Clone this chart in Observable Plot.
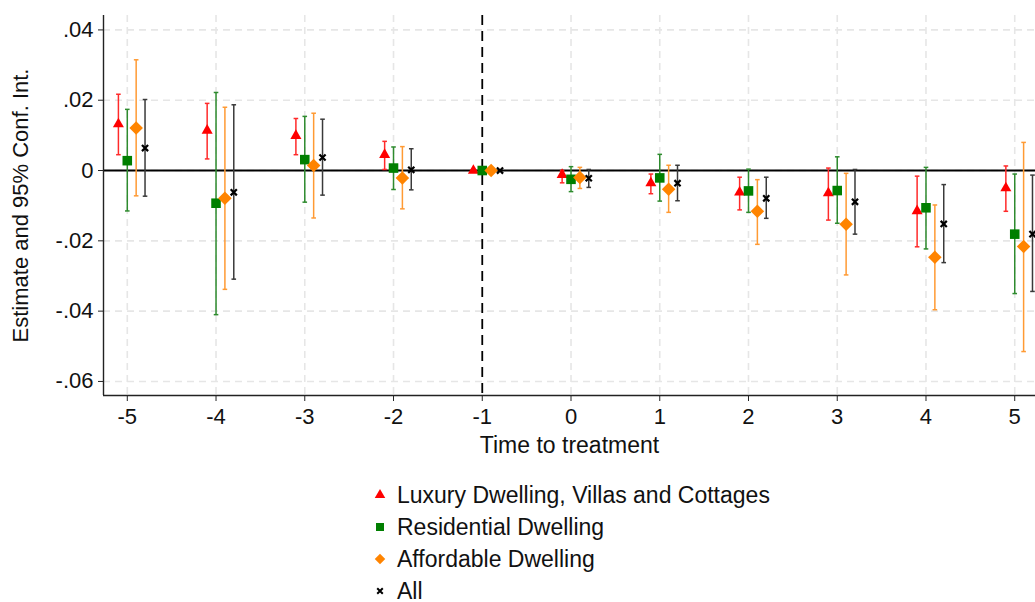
<!DOCTYPE html>
<html>
<head>
<meta charset="utf-8">
<script src="https://cdn.jsdelivr.net/npm/d3@7"></script>
<script src="https://cdn.jsdelivr.net/npm/@observablehq/plot@0.6"></script>
<style>
  html, body { margin: 0; padding: 0; background: #fff; }
  body { width: 1035px; height: 602px; overflow: hidden; font-family: "Liberation Sans", Arial, sans-serif; }
  #chart svg { display: block; }
  #legend { margin-top: 9px; padding-left: 370px; }
  .item { display: flex; align-items: center; height: 32px; font-size: 23px; color: #111; white-space: nowrap; }
  .item span { line-height: 1; }
  .item svg { width: 20px; height: 20px; margin-right: 7px; flex: none; }
</style>
</head>
<body>
<div id="chart"></div>
<div id="legend"></div>
<script>
// Event-study coefficients by time to treatment (t = -1 is the omitted reference period)
const periods = [-5, -4, -3, -2, -1, 0, 1, 2, 3, 4, 5];
const groups = ["Luxury Dwelling, Villas and Cottages", "Residential Dwelling", "Affordable Dwelling", "All"];

const luxuryEst = [0.0132, 0.0114, 0.0099, 0.0045, 0, -0.0012, -0.0036, -0.0062, -0.0064, -0.0115, -0.0050];
const luxuryLo  = [0.0045, 0.0033, 0.0045, 0.0003, null, -0.0035, -0.0066, -0.0112, -0.0141, -0.0217, -0.0116];
const luxuryHi  = [0.0217, 0.0191, 0.0148, 0.0083, null, 0.0000, -0.0010, -0.0019, 0.0007, -0.0016, 0.0013];

const residentialEst = [0.0028, -0.0093, 0.0031, 0.0007, 0, -0.0025, -0.0021, -0.0058, -0.0057, -0.0106, -0.0181];
const residentialLo  = [-0.0115, -0.0410, -0.0090, -0.0054, null, -0.0060, -0.0087, -0.0119, -0.0150, -0.0223, -0.0350];
const residentialHi  = [0.0174, 0.0222, 0.0154, 0.0067, null, 0.0011, 0.0046, 0.0004, 0.0039, 0.0009, -0.0010];

const affordableEst = [0.0121, -0.0079, 0.0014, -0.0021, 0, -0.0020, -0.0053, -0.0116, -0.0153, -0.0247, -0.0216];
const affordableLo  = [-0.0072, -0.0338, -0.0135, -0.0109, null, -0.0051, -0.0119, -0.0210, -0.0297, -0.0396, -0.0515];
const affordableHi  = [0.0315, 0.0180, 0.0163, 0.0068, null, 0.0009, 0.0015, -0.0026, -0.0008, -0.0098, 0.0080];

const allEst = [0.0064, -0.0062, 0.0037, 0.0002, 0, -0.0022, -0.0036, -0.0079, -0.0089, -0.0152, -0.0181];
const allLo  = [-0.0073, -0.0309, -0.0070, -0.0055, null, -0.0048, -0.0086, -0.0136, -0.0181, -0.0262, -0.0344];
const allHi  = [0.0202, 0.0187, 0.0146, 0.0062, null, 0.0003, 0.0015, -0.0019, 0.0003, -0.0040, -0.0013];

const yTicks = [-0.06, -0.04, -0.02, 0, 0.02, 0.04];

// Series styling: marker, colours, and horizontal dodge around each period
const series = [
  {name: groups[0], est: luxuryEst, lo: luxuryLo, hi: luxuryHi, symbol: "triangle", color: "#ff0000", ci: "#ff2a2a", r: 4.1, dodge: -0.1},
  {name: groups[1], est: residentialEst, lo: residentialLo, hi: residentialHi, symbol: "square", color: "#007f00", ci: "#2e8b2e", r: 5.4, dodge: 0},
  {name: groups[2], est: affordableEst, lo: affordableLo, hi: affordableHi, symbol: "diamond2", color: "#ff8400", ci: "#ff9a33", r: 6.1, dodge: 0.1},
  {name: groups[3], est: allEst, lo: allLo, hi: allHi, symbol: "times", color: "#000000", ci: "#3a3a3a", r: 2.9, dodge: 0.2}
];

const rows = series.flatMap(s => periods.map((t, i) => ({
  group: s.name, t, x: t + s.dodge, est: s.est[i], lo: s.lo[i], hi: s.hi[i]
})));

// Horizontal cap for the confidence-interval whiskers
const capSymbol = {
  draw(ctx, size) {
    const w = Math.sqrt(size / Math.PI);
    ctx.moveTo(-w, 0);
    ctx.lineTo(w, 0);
  }
};

// Stata-style tick labels: ".02", "-.04", plain hyphen
const yFormat = d => d === 0 ? "0" : d3.format(".2f")(d).replace("0.", ".").replace("\u2212", "-");

const marks = [
  Plot.gridY(yTicks, {stroke: "#e6e6e6", strokeOpacity: 1, strokeWidth: 1.6, strokeDasharray: "7,5"}),
  Plot.gridX(periods.filter(p => p !== -1), {stroke: "#e6e6e6", strokeOpacity: 1, strokeWidth: 1.6, strokeDasharray: "7,5"}),
  Plot.ruleY([0], {stroke: "#000", strokeWidth: 1.8}),
  Plot.ruleX([-1], {stroke: "#000", strokeWidth: 1.8, strokeDasharray: "10,6"})
];

for (const s of series) {
  const data = rows.filter(d => d.group === s.name);
  const withCI = data.filter(d => d.lo != null);
  marks.push(
    Plot.link(withCI, {x1: "x", x2: "x", y1: "lo", y2: "hi", stroke: s.ci, strokeWidth: 1.5}),
    Plot.dot(withCI, {x: "x", y: "lo", symbol: capSymbol, r: 2.3, stroke: s.ci, strokeWidth: 1.5, fill: "none"}),
    Plot.dot(withCI, {x: "x", y: "hi", symbol: capSymbol, r: 2.3, stroke: s.ci, strokeWidth: 1.5, fill: "none"}),
    s.symbol === "times"
      ? Plot.dot(data, {x: "x", y: "est", symbol: "times", r: s.r, stroke: s.color, strokeWidth: 2.2, fill: "none"})
      : Plot.dot(data, {x: "x", y: "est", symbol: s.symbol, r: s.r, fill: s.color, stroke: "none"})
  );
}

marks.push(
  Plot.ruleX([-5.268], {stroke: "#222", strokeWidth: 1.4}),
  Plot.ruleY([-0.064], {stroke: "#222", strokeWidth: 1.4}),
  Plot.axisY(yTicks, {tickFormat: yFormat, tickSize: 5, tickPadding: 5, label: null, stroke: "#222", fontSize: 22, fill: "#111"}),
  Plot.axisX(periods, {tickFormat: d => String(d), tickSize: 6, tickPadding: 7, label: null, stroke: "#222", fontSize: 22, fill: "#111"}),
  Plot.text(["Time to treatment"], {frameAnchor: "bottom", dy: 57, fontSize: 23, fill: "#111"}),
  Plot.text(["Estimate and 95% Conf. Int."], {frameAnchor: "left", dx: -83, rotate: -90, textAnchor: "middle", fontSize: 22, fill: "#111"})
);

const chart = Plot.plot({
  width: 1035,
  height: 470,
  marginLeft: 103,
  marginRight: 0,
  marginTop: 15,
  marginBottom: 75,
  style: {fontFamily: "'Liberation Sans', Arial, sans-serif", fontSize: "22px", background: "#fff", overflow: "visible"},
  x: {domain: [-5.268, 5.234]},
  y: {domain: [-0.064, 0.0441]},
  marks
});
document.getElementById("chart").append(chart);

// Legend: one row per series with its marker
const legend = d3.select("#legend");
for (const s of series) {
  const item = legend.append("div").attr("class", "item");
  const sw = item.append("svg").attr("viewBox", "-10 -10 20 20");
  const symType = {triangle: d3.symbolTriangle, square: d3.symbolSquare, diamond2: d3.symbolDiamond2, times: d3.symbolTimes}[s.symbol];
  const size = s.symbol === "times" ? 22 : s.symbol === "square" ? 64 : s.symbol === "triangle" ? 48 : 70;
  const path = sw.append("path").attr("d", d3.symbol(symType, size)());
  if (s.symbol === "times") path.attr("fill", "none").attr("stroke", s.color).attr("stroke-width", 2);
  else path.attr("fill", s.color);
  item.append("span").text(s.name);
}
</script>
</body>
</html>
